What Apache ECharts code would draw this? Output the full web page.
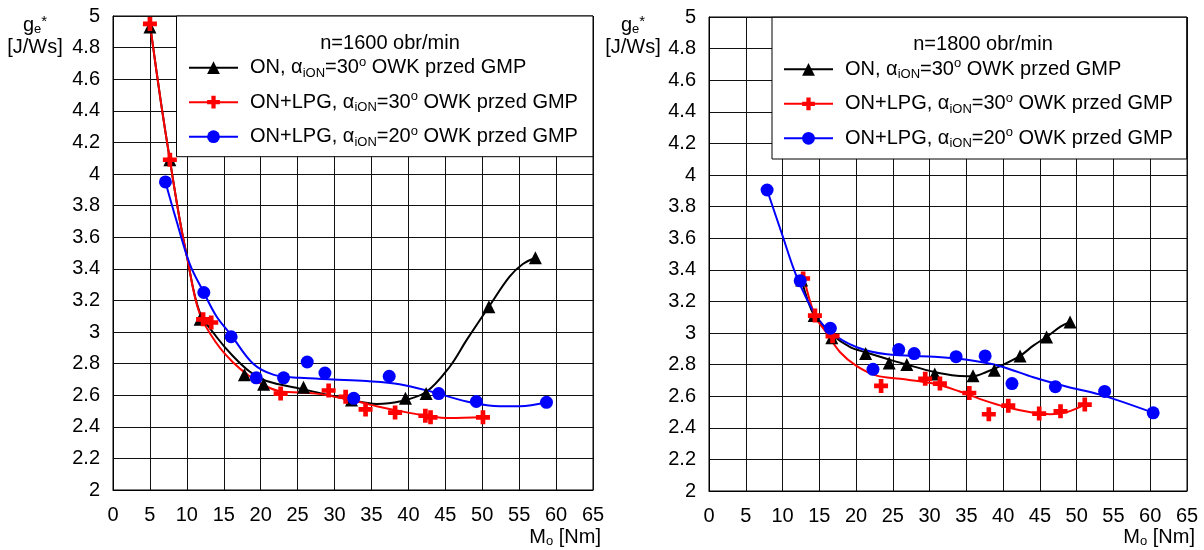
<!DOCTYPE html>
<html>
<head>
<meta charset="utf-8">
<script src="https://cdn.jsdelivr.net/npm/echarts@6/dist/echarts.min.js"></script>
<style>
html,body{margin:0;padding:0;background:#fff;}
#chart{width:1204px;height:550px;}
</style>
</head>
<body>
<div id="chart"></div>
<script>
// ---------- data: n = 1600 obr/min ----------
var on1600X    = [5.0, 7.7, 11.8, 17.8, 20.4, 25.8, 32.3, 39.6, 42.4, 50.9, 57.2];
var on1600Y    = [4.93, 4.09, 3.08, 2.73, 2.67, 2.65, 2.57, 2.58, 2.61, 3.16, 3.47];
var lpg30_1600X = [5.0, 7.7, 12.2, 13.3, 22.7, 29.2, 31.5, 34.2, 38.2, 42.3, 43.0, 50.1];
var lpg30_1600Y = [4.95, 4.09, 3.08, 3.06, 2.61, 2.63, 2.59, 2.51, 2.49, 2.47, 2.46, 2.46];
var lpg20_1600X = [7.1, 12.3, 16.0, 19.4, 23.1, 26.3, 28.7, 32.6, 37.4, 44.1, 49.2, 58.7];
var lpg20_1600Y = [3.95, 3.25, 2.97, 2.71, 2.71, 2.81, 2.74, 2.58, 2.72, 2.61, 2.56, 2.555];
// trend curves
var onFit1600 = [[5,4.95],[6.5,4.45],[7.7,4.09],[9,3.72],[10,3.48],[11.7,3.13],[14,2.97],[16.2,2.85],[18.5,2.75],[20.8,2.69],[25.5,2.64],[32.2,2.57],[35.7,2.545],[38.8,2.56],[42.4,2.62],[45.6,2.78],[47.9,2.95],[50.9,3.16],[53.7,3.35],[55.5,3.43],[57.2,3.47]];
var lpg30Fit1600 = [[5,4.95],[6.5,4.45],[7.7,4.09],[9,3.72],[10,3.48],[11.7,3.12],[14,2.93],[16.2,2.81],[18.5,2.72],[20.8,2.655],[22.6,2.625],[27.5,2.61],[32.2,2.57],[35.7,2.53],[38.8,2.50],[42.4,2.47],[45.6,2.455],[50.1,2.46]];
var lpg20Fit1600 = [[7.1,3.95],[8.5,3.72],[10.4,3.43],[12.3,3.25],[14,3.1],[16,2.98],[18.95,2.80],[21.7,2.73],[25.3,2.71],[29.8,2.70],[34.3,2.69],[38.8,2.67],[43.3,2.62],[47.9,2.56],[52.4,2.53],[55.1,2.53],[58.7,2.555]];

// ---------- data: n = 1800 obr/min ----------
var on1800X    = [12.6, 14.3, 16.7, 21.3, 24.5, 26.9, 30.7, 35.9, 38.8, 42.3, 45.9, 49.1];
var on1800Y    = [3.335, 3.11, 2.97, 2.87, 2.81, 2.80, 2.74, 2.73, 2.765, 2.855, 2.975, 3.07];
var lpg30_1800X = [12.8, 14.4, 16.8, 23.4, 29.4, 31.4, 35.4, 38.05, 40.7, 44.9, 47.8, 51.1];
var lpg30_1800Y = [3.345, 3.11, 2.98, 2.665, 2.71, 2.68, 2.62, 2.486, 2.54, 2.49, 2.505, 2.547];
var lpg20_1800X = [7.9, 12.4, 16.5, 22.3, 25.8, 27.9, 33.6, 37.55, 41.2, 47.1, 53.8, 60.4];
var lpg20_1800Y = [3.905, 3.33, 3.03, 2.77, 2.895, 2.87, 2.85, 2.855, 2.68, 2.66, 2.63, 2.495];
var onFit1800 = [[12.6,3.335],[14.3,3.11],[16.7,2.99],[19.2,2.91],[21.5,2.875],[24.6,2.83],[26.9,2.80],[30.5,2.755],[33.7,2.73],[35.9,2.727],[37.8,2.755],[39.6,2.79],[42.3,2.855],[44.1,2.92],[45.9,2.975],[47.8,3.04],[49.1,3.07]];
var lpg30Fit1800 = [[12.8,3.37],[14.4,3.11],[16,3.0],[17.8,2.88],[20.1,2.79],[22.8,2.73],[26,2.71],[30.5,2.68],[34.1,2.63],[37.3,2.575],[40.5,2.53],[44.1,2.495],[46.4,2.486],[48.7,2.50],[51.1,2.547]];
var lpg20Fit1800 = [[7.9,3.905],[9.9,3.63],[11.9,3.36],[14.4,3.12],[16.7,3.0],[20.1,2.91],[24.2,2.865],[30.5,2.85],[35.1,2.83],[39.6,2.79],[44.1,2.72],[48.7,2.66],[53.2,2.61],[60.4,2.495]];

var titles = ['n=1600 obr/min', 'n=1800 obr/min'];
var seriesNames = ['ON30', 'LPG30', 'LPG20'];
var legendLabels = {
  ON30:  '{f|ON, }{a|α}{s|iON}{n|=30}{p|o}{n| OWK przed GMP}',
  LPG30: '{f|ON+LPG, }{a|α}{s|iON}{n|=30}{p|o}{n| OWK przed GMP}',
  LPG20: '{f|ON+LPG, }{a|α}{s|iON}{n|=20}{p|o}{n| OWK przed GMP}'
};

function zip(xs, ys){ return xs.map(function(x,i){ return [x, ys[i]]; }); }

var FONT = 'Liberation Sans, Arial, sans-serif';
var colors = {ON30:'#000000', LPG30:'#ff0000', LPG20:'#0000ff'};
var PLUS = 'path://M4,0H8V4H12V8H8V12H4V8H0V4H4Z';
var symbols = {ON30:'triangle', LPG30:PLUS, LPG20:'circle'};
var symSizes = {ON30:13, LPG30:14, LPG20:13};

var panels = [
  {pts:{ON30:zip(on1600X,on1600Y), LPG30:zip(lpg30_1600X,lpg30_1600Y), LPG20:zip(lpg20_1600X,lpg20_1600Y)},
   fit:{ON30:onFit1600, LPG30:lpg30Fit1600, LPG20:lpg20Fit1600}},
  {pts:{ON30:zip(on1800X,on1800Y), LPG30:zip(lpg30_1800X,lpg30_1800Y), LPG20:zip(lpg20_1800X,lpg20_1800Y)},
   fit:{ON30:onFit1800, LPG30:lpg30Fit1800, LPG20:lpg20Fit1800}}
];

var grids = [
  {left:113, top:16, width:480, height:474},
  {left:709, top:17, width:478, height:474}
];

var series = [];
panels.forEach(function(p, pi){
  seriesNames.forEach(function(nm){
    series.push({
      type:'line', name:nm, xAxisIndex:pi, yAxisIndex:pi,
      data:p.fit[nm], smooth:0.35, showSymbol:false,
      symbol:symbols[nm], symbolSize:symSizes[nm],
      lineStyle:{color:colors[nm], width:2},
      itemStyle:{color:colors[nm]}, z:3, silent:true
    });
  });
  seriesNames.forEach(function(nm){
    series.push({
      type:'scatter', name:nm + '_pts', xAxisIndex:pi, yAxisIndex:pi,
      data:p.pts[nm], symbol:symbols[nm], symbolSize:symSizes[nm],
      itemStyle:{color:colors[nm], opacity:1}, z:4, silent:true
    });
  });
});

function xAxis(gi){
  return {type:'value', gridIndex:gi, min:0, max:65, interval:5,
    axisLine:{show:true, lineStyle:{color:'#000', width:1}},
    axisTick:{show:false},
    axisLabel:{color:'#000', fontSize:20, fontFamily:FONT, margin:15},
    splitLine:{show:true, lineStyle:{color:'#111', width:1}}};
}
function yAxis(gi){
  return {type:'value', gridIndex:gi, min:2, max:5, interval:0.2,
    axisLine:{show:true, lineStyle:{color:'#000', width:1}},
    axisTick:{show:false},
    axisLabel:{color:'#000', fontSize:20, fontFamily:FONT, margin:13},
    splitLine:{show:true, lineStyle:{color:'#111', width:1}}};
}

var richLegend = {
  f:{fontSize:20, fontFamily:FONT, color:'#000', lineHeight:24, verticalAlign:'middle', padding:[0,0,0,7]},
  n:{fontSize:20, fontFamily:FONT, color:'#000', lineHeight:24, verticalAlign:'middle'},
  a:{fontSize:20, fontFamily:FONT, color:'#000', lineHeight:24, verticalAlign:'middle'},
  s:{fontSize:13, fontFamily:FONT, color:'#000', lineHeight:12, verticalAlign:'bottom'},
  p:{fontSize:13, fontFamily:FONT, color:'#000', lineHeight:12, verticalAlign:'top'}
};

function legend(left, top){
  return {orient:'vertical', left:left, top:top, itemWidth:49, itemHeight:16, itemGap:10.5,
    data:seriesNames, selectedMode:false, z:10, padding:0,
    formatter:function(n){ return legendLabels[n]; },
    textStyle:{fontSize:20, fontFamily:FONT, color:'#000', rich:richLegend}};
}

var boxes = [
  {x:176.5, y:16, w:416.5, h:140.7},
  {x:772, y:17.3, w:414.7, h:141.7}
];

var graphic = [];
boxes.forEach(function(b){
  graphic.push({type:'rect', shape:{x:b.x, y:b.y, width:b.w, height:b.h},
    style:{fill:'#fff', stroke:'#000', lineWidth:1}, z:8, silent:true});
});
var yNameX = [35, 633];
yNameX.forEach(function(x){
  graphic.push({type:'text', x:x, y:14, z:10, silent:true,
    style:{text:'{g|g}{s|e}{p|*}\n{n|[J/Ws]}', align:'center', verticalAlign:'top',
      rich:{
        g:{fontSize:20, fontFamily:FONT, fill:'#000', lineHeight:22, verticalAlign:'middle'},
        n:{fontSize:20, fontFamily:FONT, fill:'#000', lineHeight:22, verticalAlign:'middle'},
        s:{fontSize:13, fontFamily:FONT, fill:'#000', lineHeight:12, verticalAlign:'bottom'},
        p:{fontSize:15, fontFamily:FONT, fill:'#000', lineHeight:14, verticalAlign:'top'}
      }}});
});
var xNameRight = [601, 1195];
xNameRight.forEach(function(x){
  graphic.push({type:'text', x:x, y:526, z:10, silent:true,
    style:{text:'{n|M}{s|o}{n| [Nm]}', align:'right', verticalAlign:'top',
      rich:{
        n:{fontSize:20, fontFamily:FONT, fill:'#000', lineHeight:22, verticalAlign:'middle'},
        s:{fontSize:13, fontFamily:FONT, fill:'#000', lineHeight:12, verticalAlign:'bottom'}
      }}});
});

var option = {
  backgroundColor:'#fff',
  animation:false,
  title:[
    {text:titles[0], left:385, top:28, textAlign:'center', z:10,
     textStyle:{fontSize:20, fontWeight:'normal', fontFamily:FONT, color:'#000'}},
    {text:titles[1], left:978, top:29, textAlign:'center', z:10,
     textStyle:{fontSize:20, fontWeight:'normal', fontFamily:FONT, color:'#000'}}
  ],
  grid:grids.map(function(g){ return Object.assign({show:true, borderColor:'#000', borderWidth:1, backgroundColor:'transparent'}, g); }),
  xAxis:[xAxis(0), xAxis(1)],
  yAxis:[yAxis(0), yAxis(1)],
  legend:[legend(188, 55.7), legend(783, 57.3)],
  graphic:graphic,
  series:series
};

var chart = echarts.init(document.getElementById('chart'), null, {renderer:'canvas'});
chart.setOption(option);
</script>
</body>
</html>
